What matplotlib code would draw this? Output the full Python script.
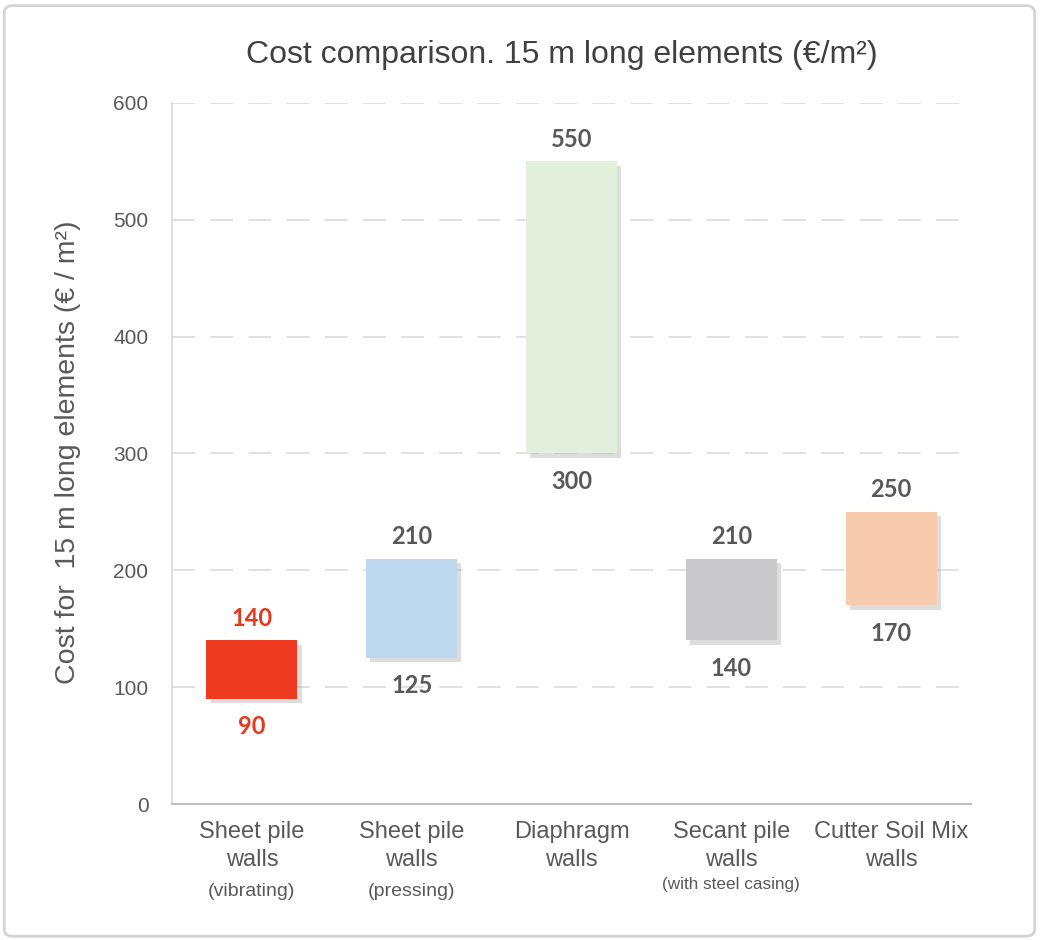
import matplotlib
matplotlib.use("Agg")
import matplotlib.pyplot as plt
import matplotlib.patheffects as pe
from matplotlib.patches import FancyBboxPatch

# ---- data ----
cat_line1 = ["Sheet pile", "Sheet pile", "Diaphragm", "Secant pile", "Cutter Soil Mix"]
cat_line2 = ["walls", "walls", "walls", "walls", "walls"]
sub_labels = ["(vibrating)", "(pressing)", "", "(with steel casing)", ""]
low_values = [90, 125, 300, 140, 170]
high_values = [140, 210, 550, 210, 250]
bar_colors = ["#EE3B1F", "#BDD7EE", "#E2EFDA", "#C9C9CB", "#F8CBAD"]
label_colors = ["#E8371D", "#595959", "#595959", "#595959", "#595959"]
y_ticks = [0, 100, 200, 300, 400, 500, 600]

title = "Cost comparison. 15 m long elements (€/m²)"
ylabel = "Cost for  15 m long elements (€ / m²)"

W, H = 1043, 940
fig = plt.figure(figsize=(W / 100, H / 100), dpi=100)
fig.patch.set_facecolor("white")

# outer frame
frame = FancyBboxPatch((0.004, 0.004), 0.988, 0.99, boxstyle="round,pad=0,rounding_size=0.008",
                       transform=fig.transFigure, facecolor="white", edgecolor="#D4D4D4",
                       linewidth=2.0, zorder=-5)
fig.patches.append(frame)

ax = fig.add_axes([172 / W, 1 - 804 / H, (971 - 172) / W, (804 - 103) / H])
ax.set_facecolor("none")
ax.set_zorder(2)

x = list(range(len(low_values)))
heights = [h - l for h, l in zip(high_values, low_values)]
bars = ax.bar(x, heights, bottom=low_values, width=0.57, color=bar_colors, zorder=3,
              linewidth=0)
for b in bars:
    b.set_path_effects([pe.SimplePatchShadow(offset=(3, -3), shadow_rgbFace="#A0A0A0", alpha=0.35),
                        pe.Normal()])

num_font = dict(family=["Lato", "DejaVu Sans"], fontsize=17, fontweight="bold")
for xi, lo, hi, c in zip(x, low_values, high_values, label_colors):
    ax.annotate(str(hi), (xi, hi), xytext=(0, 16), textcoords="offset points",
                ha="center", va="center", color=c, **num_font)
    ax.annotate(str(lo), (xi, lo), xytext=(0, -20), textcoords="offset points",
                ha="center", va="center", color=c, **num_font)

ax.set_xlim(-0.5, 4.5)
ax.set_ylim(0, 600)
ax.set_yticks(y_ticks)
ax.set_yticklabels([str(t) for t in y_ticks], fontsize=15, color="#595959",
                   family=["Liberation Sans", "DejaVu Sans"])
ax.tick_params(axis="y", length=0, pad=17)
ax.set_xticks([])

ax.yaxis.grid(True, color="#D9D9D9", linewidth=1.1, linestyle=(0, (15, 10)), zorder=0)
ax.set_axisbelow(True)

for s in ["top", "right"]:
    ax.spines[s].set_visible(False)
ax.spines["left"].set_color("#D9D9D9")
ax.spines["left"].set_linewidth(1.2)
ax.spines["bottom"].set_color("#BFBFBF")
ax.spines["bottom"].set_linewidth(1.5)

cat_font = dict(family=["Liberation Sans", "DejaVu Sans"], color="#595959")
px = 72 / 100  # points per pixel
for xi, l1, l2, sub in zip(x, cat_line1, cat_line2, sub_labels):
    ax.annotate(l1, (xi, 0), xycoords=("data", "axes fraction"), xytext=(0, -28 * px),
                textcoords="offset points", ha="center", va="center", fontsize=17, **cat_font)
    ax.annotate(l2, (xi, 0), xycoords=("data", "axes fraction"), xytext=(0, -56 * px),
                textcoords="offset points", ha="center", va="center", fontsize=17, **cat_font)
    if sub:
        long_sub = len(sub) > 12
        ax.annotate(sub, (xi, 0), xycoords=("data", "axes fraction"),
                    xytext=(0, (-80 if long_sub else -87) * px),
                    textcoords="offset points", ha="center", va="center",
                    fontsize=12.3 if long_sub else 14, **cat_font)

fig.text(562 / W, 1 - 55 / H, title, ha="center", va="center", fontsize=23,
         color="#404040", family=["Liberation Sans", "DejaVu Sans"])
fig.text(68 / W, 1 - 452 / H, ylabel, ha="center", va="center", rotation=90,
         fontsize=20.5, color="#595959", family=["Liberation Sans", "DejaVu Sans"])

fig.savefig("out.png", dpi=100, facecolor="white")
